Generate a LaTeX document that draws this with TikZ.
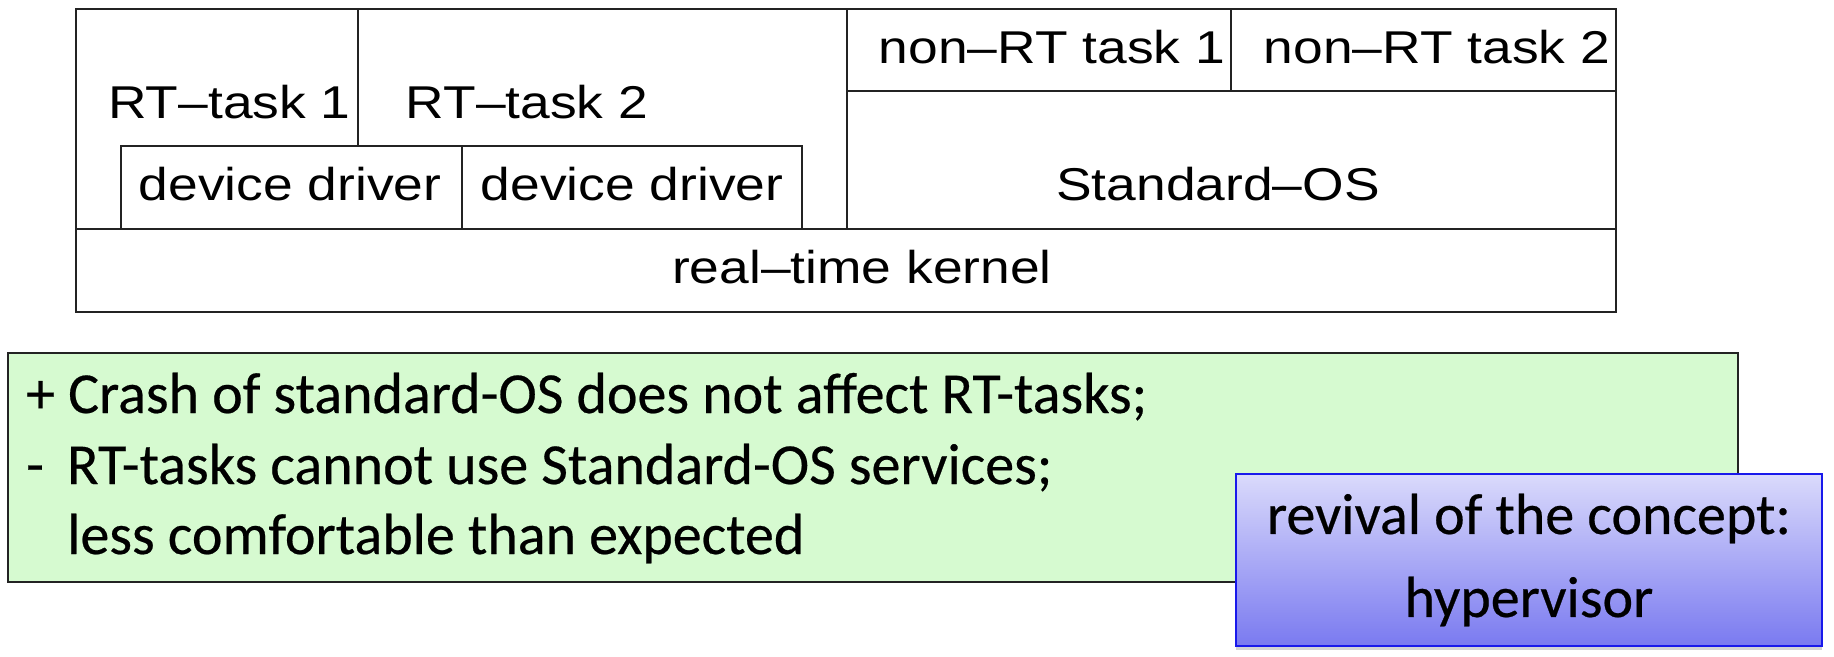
\documentclass[tikz,border=0pt]{standalone}
\usepackage{fontspec}
\setmainfont[FakeBold=0.4]{Carlito}
\newfontfamily\helv[FakeStretch=1.16]{Liberation Sans}
\usetikzlibrary{shadows}
\definecolor{prosgreen}{RGB}{214,250,208}
\definecolor{hvtop}{RGB}{218,218,251}
\definecolor{hvbot}{RGB}{122,122,240}
\definecolor{hvborder}{RGB}{25,25,235}
\definecolor{linegray}{RGB}{35,35,35}
\tikzset{
  layer/.style={draw=linegray, line width=2.4pt},
  lbl/.style={anchor=base, inner sep=0pt, font=\helv\fontsize{46}{50}\selectfont},
  txt/.style={anchor=base west, inner sep=0pt, font=\fontsize{58}{64}\selectfont},
}
\begin{document}
\begin{tikzpicture}[x=1pt,y=-1pt]
\useasboundingbox (0,0) rectangle (1834,656);
% top layered diagram
\coordinate (tl) at (76,9);
\coordinate (br) at (1616,312);
\draw[layer] (tl) rectangle (br);
\draw[layer] (76,229) -- (1616,229);
\draw[layer] (358,9) -- (358,146);
\draw[layer] (121,229) -- (121,146) -- (802,146) -- (802,229);
\draw[layer] (462,146) -- (462,229);
\draw[layer] (847,9) -- (847,229);
\draw[layer] (847,91) -- (1616,91);
\draw[layer] (1231,9) -- (1231,91);
\node[lbl] (rt1) at (229.5,118) {RT–task 1};
\node[lbl] (rt2) at (527,118) {RT–task 2};
\node[lbl] (dd1) at (290,200) {device driver};
\node[lbl] (dd2) at (632,200) {device driver};
\node[lbl] (nrt1) at (1052,63) {non–RT task 1};
\node[lbl] (nrt2) at (1437,63) {non–RT task 2};
\node[lbl] (sos) at (1218,200) {Standard–OS};
\node[lbl] (rtk) at (862,283) {real–time kernel};
% pros / cons box
\node[draw=linegray, line width=2pt, fill=prosgreen, anchor=north west, minimum width=1730pt, minimum height=229pt, inner sep=0pt] (pros) at (7,352) {};
\node[txt] (l1) at (26,413) {+ Crash of standard-OS does not affect RT-tasks;};
\node[txt] (l2) at (26,484) {-\hspace{0.4em}RT-tasks cannot use Standard-OS services;};
\node[txt] (l3) at (67,554) {less comfortable than expected};
% hypervisor box
\node[draw=hvborder, line width=2.4pt, top color=hvtop, bottom color=hvbot,
      drop shadow={shadow xshift=0pt, shadow yshift=-4pt, opacity=0.35},
      minimum width=586pt, minimum height=172pt, inner sep=0pt, align=center,
      font=\fontsize{58}{83}\selectfont] (hyp) at (1529,560) {revival of the concept:\\hypervisor};
\end{tikzpicture}
\end{document}
